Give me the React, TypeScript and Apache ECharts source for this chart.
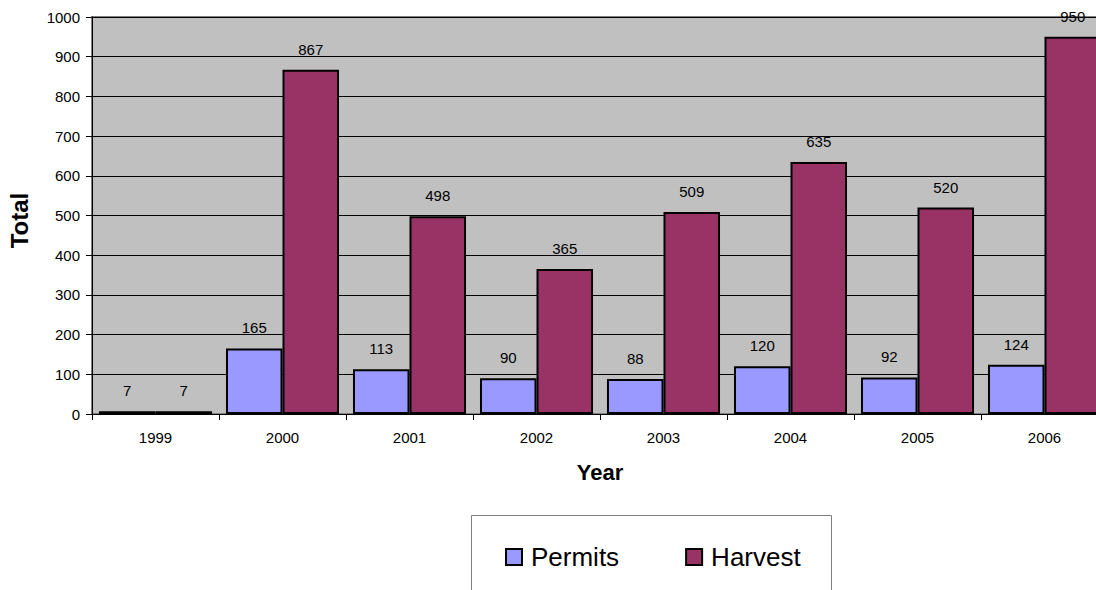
import React, { useEffect, useRef } from "react";
import * as echarts from "echarts";

const years = ["1999", "2000", "2001", "2002", "2003", "2004", "2005", "2006"];
const permits = [7, 165, 113, 90, 88, 120, 92, 124];
const harvest = [7, 867, 498, 365, 509, 635, 520, 950];
const yTicks = { min: 0, max: 1000, interval: 100 };

export default function App() {
  const ref = useRef<HTMLDivElement>(null);
  useEffect(() => {
    if (!ref.current) return;
    const chart = echarts.init(ref.current, null, { renderer: "svg" });
    const font = "Liberation Sans, Arial, sans-serif";
    const label = {
      show: true,
      position: "top",
      distance: 13,
      color: "#000",
      fontSize: 15,
      fontFamily: font,
    };
    chart.setOption({
      animation: false,
      textStyle: { fontFamily: font },
      grid: {
        left: 92,
        top: 17,
        width: 1016,
        height: 397,
        outerBoundsMode: "none",
        containLabel: false,
        show: true,
        backgroundColor: "#C0C0C0",
        borderColor: "#808080",
        borderWidth: 2,
      },
      legend: {
        left: 500,
        top: 539,
        itemWidth: 16,
        itemHeight: 16,
        itemGap: 66,
        icon: "rect",
        textStyle: { fontSize: 26, color: "#000", fontFamily: font, padding: [0, 0, 0, 4] },
        data: ["Permits", "Harvest"],
      },
      graphic: [
        {
          type: "rect",
          shape: { x: 471.5, y: 515.5, width: 360, height: 100 },
          style: { fill: "#fff", stroke: "#808080", lineWidth: 1 },
          z: -1,
        },
      ],
      xAxis: {
        type: "category",
        data: years,
        name: "Year",
        nameLocation: "middle",
        nameGap: 47,
        nameTextStyle: { fontSize: 22, fontWeight: "bold", color: "#000", fontFamily: font },
        axisLine: { lineStyle: { color: "#000", width: 1 } },
        axisTick: { show: true, length: 6, lineStyle: { color: "#000" } },
        axisLabel: { fontSize: 15, color: "#000", margin: 16, fontFamily: font },
      },
      yAxis: {
        type: "value",
        min: yTicks.min,
        max: yTicks.max,
        interval: yTicks.interval,
        name: "Total",
        nameLocation: "middle",
        nameGap: 61,
        nameTextStyle: {
          fontSize: 24,
          fontWeight: "bold",
          color: "#000",
          fontFamily: font,
          padding: [0, 10, 0, 0],
        },
        axisLine: { show: true, lineStyle: { color: "#000", width: 1 } },
        axisTick: { show: true, length: 6, lineStyle: { color: "#000" } },
        axisLabel: {
          fontSize: 15,
          color: "#000",
          margin: 12,
          fontFamily: font,
          formatter: (v: number) => String(v),
        },
        splitLine: { show: true, lineStyle: { color: "#000", width: 1 } },
      },
      series: [
        {
          name: "Permits",
          type: "bar",
          data: permits,
          barGap: "0%",
          barCategoryGap: "11%",
          itemStyle: { color: "#9999FF", borderColor: "#000", borderWidth: 2 },
          label,
        },
        {
          name: "Harvest",
          type: "bar",
          data: harvest,
          barGap: "0%",
          barCategoryGap: "11%",
          itemStyle: { color: "#993366", borderColor: "#000", borderWidth: 2 },
          label,
        },
      ],
    });
    return () => chart.dispose();
  }, []);
  return (
    <div style={{ position: "fixed", left: 0, top: 0, width: 1096, height: 590, overflow: "hidden", background: "#fff" }}>
      <div ref={ref} style={{ width: 1120, height: 620 }} />
    </div>
  );
}
